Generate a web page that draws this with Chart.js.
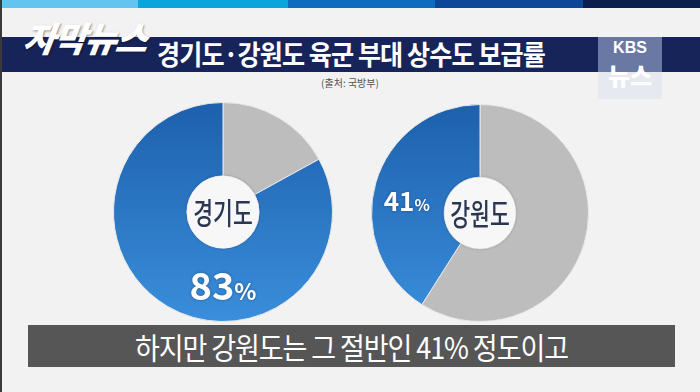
<!DOCTYPE html>
<html>
<head>
<meta charset="utf-8">
<script src="https://cdn.jsdelivr.net/npm/chart.js@4"></script>
<style>
  body { margin: 0; width: 700px; height: 392px; overflow: hidden; background: #f2f2f2; font-family: "Noto Sans CJK KR", sans-serif; position: relative; }
  .stripes { position: absolute; left: 0; top: 0; width: 700px; height: 8px; display: flex; }
  .stripes div { height: 8px; }
  .edge { position: absolute; left: 0; top: 0; width: 2px; height: 392px; background: #3a3a3a; }
  .bar { position: absolute; left: 0; top: 37px; width: 700px; height: 35px; background: #17245a; }
  .title { position: absolute; left: 0; top: 36px; width: 702px; height: 35px; line-height: 35px; text-align: center; color: #fff; font-weight: 700; font-size: 27px; letter-spacing: -1px; transform: scaleX(0.93); }
  .logo { position: absolute; left: 24px; top: 11px; color: #fff; font-weight: 900; font-size: 35px; font-style: italic; letter-spacing: -1.5px; transform: skewX(-8deg); text-shadow: 1px 1px 2px rgba(0,0,0,0.4); }
  .kbs { position: absolute; left: 598px; top: 37px; width: 64px; height: 62px; background: linear-gradient(#6a79a3 0, #6a79a3 35px, rgba(230,232,240,0.9) 35px); }
  .kbs .k { position: absolute; left: 0; width: 64px; top: 2px; text-align: center; color: #fff; font-family: "Liberation Sans", sans-serif; font-weight: 700; font-size: 16px; }
  .kbs .n { position: absolute; left: 0; width: 64px; top: 20px; text-align: center; color: #fff; font-weight: 900; font-size: 24px; }
  .src { position: absolute; left: 0; top: 75px; width: 700px; text-align: center; color: #555; font-size: 10px; }
  .cap { position: absolute; left: 28px; top: 325px; width: 647px; height: 42px; background: #565656; }
  .cap div { position: absolute; left: 0; top: 0; width: 647px; color: #fff; text-align: center; line-height: 42px; font-size: 30px; letter-spacing: -1.2px; transform: scaleX(0.9); }
  canvas { position: absolute; }
</style>
</head>
<body>
<div class="stripes">
  <div style="width:138px;background:#63c5ef"></div>
  <div style="width:150px;background:#0aa5dd"></div>
  <div style="width:147px;background:#0d6cbf"></div>
  <div style="width:148px;background:#0b4796"></div>
  <div style="width:117px;background:#0b1f4f"></div>
</div>
<div class="bar"></div>
<div class="title">경기도·강원도 육군 부대 상수도 보급률</div>
<div class="logo">자막뉴스</div>
<div class="kbs"><div class="k">KBS</div><div class="n">뉴스</div></div>
<div class="src">(출처: 국방부)</div>
<canvas id="c0" width="220" height="220" style="left:113px;top:102px"></canvas>
<canvas id="c1" width="218" height="218" style="left:371px;top:104px"></canvas>
<div class="cap"><div>하지만 강원도는 그 절반인 41% 정도이고</div></div>
<div class="edge"></div>
<script>
const regions = ['경기도', '강원도'];
const supplied = [83, 41];
const notSupplied = [17, 59];
const valueLabels = ['83%', '41%'];

// where the percentage label sits on the ring (degrees from top, clockwise)
const labelAngle = [180, 279];
const labelSize = [38, 26];

function segFill(ctx) {
  if (ctx.dataIndex === 0) return '#bdbdbd';
  const area = ctx.chart.chartArea;
  if (!area) return '#2c78c6';
  const g = ctx.chart.ctx.createLinearGradient(0, area.top, 0, area.bottom);
  g.addColorStop(0, '#1d60ad');
  g.addColorStop(1, '#3a8edb');
  return g;
}

const centerPlugin = {
  id: 'center',
  afterDraw(chart) {
    const arc = chart.getDatasetMeta(0).data[0];
    const { x, y, innerRadius, outerRadius } = arc;
    const c = chart.ctx;
    const i = chart.options.plugins.center.index;
    c.save();
    c.shadowColor = 'rgba(0,0,0,0.25)';
    c.shadowBlur = 3;
    c.beginPath();
    c.arc(x, y, innerRadius, 0, Math.PI * 2);
    c.fillStyle = '#f7f7f7';
    c.fill();
    c.restore();

    // region name, condensed like the broadcast font
    c.save();
    c.translate(x, y + 1);
    c.scale(0.72, 1);
    c.fillStyle = '#2b3752';
    c.font = '500 30px "Noto Sans CJK KR"';
    c.textAlign = 'center';
    c.textBaseline = 'middle';
    c.fillText(regions[i], 0, 0);
    c.restore();

    const a = (labelAngle[i] - 90) * Math.PI / 180;
    const r = (innerRadius + outerRadius) / 2 + 2;
    const lx = x + Math.cos(a) * r;
    const ly = y + Math.sin(a) * r;
    const num = valueLabels[i].replace('%', '');
    const big = labelSize[i];
    const small = Math.round(big * 0.6);
    c.save();
    c.font = '700 ' + big + 'px "Noto Sans CJK KR"';
    const w1 = c.measureText(num).width;
    c.font = '700 ' + small + 'px "Noto Sans CJK KR"';
    const w2 = c.measureText('%').width;
    const sx = lx - (w1 + w2) / 2;
    c.shadowColor = 'rgba(0,0,0,0.35)';
    c.shadowBlur = 3;
    c.fillStyle = '#ffffff';
    c.textAlign = 'left';
    c.textBaseline = 'alphabetic';
    c.font = '700 ' + big + 'px "Noto Sans CJK KR"';
    c.fillText(num, sx, ly + big * 0.36);
    c.font = '700 ' + small + 'px "Noto Sans CJK KR"';
    c.fillText('%', sx + w1, ly + big * 0.36);
    c.restore();
  }
};

regions.forEach((name, i) => {
  new Chart(document.getElementById('c' + i), {
    type: 'doughnut',
    data: {
      labels: ['미보급', '보급'],
      datasets: [{
        data: [notSupplied[i], supplied[i]],
        backgroundColor: segFill,
        borderColor: '#e8e8e8',
        borderWidth: 1
      }]
    },
    options: {
      responsive: false,
      animation: false,
      cutout: '33%',
      rotation: 0,
      layout: { padding: 0 },
      plugins: {
        legend: { display: false },
        tooltip: { enabled: false },
        center: { index: i }
      }
    },
    plugins: [centerPlugin]
  });
});
</script>
</body>
</html>
